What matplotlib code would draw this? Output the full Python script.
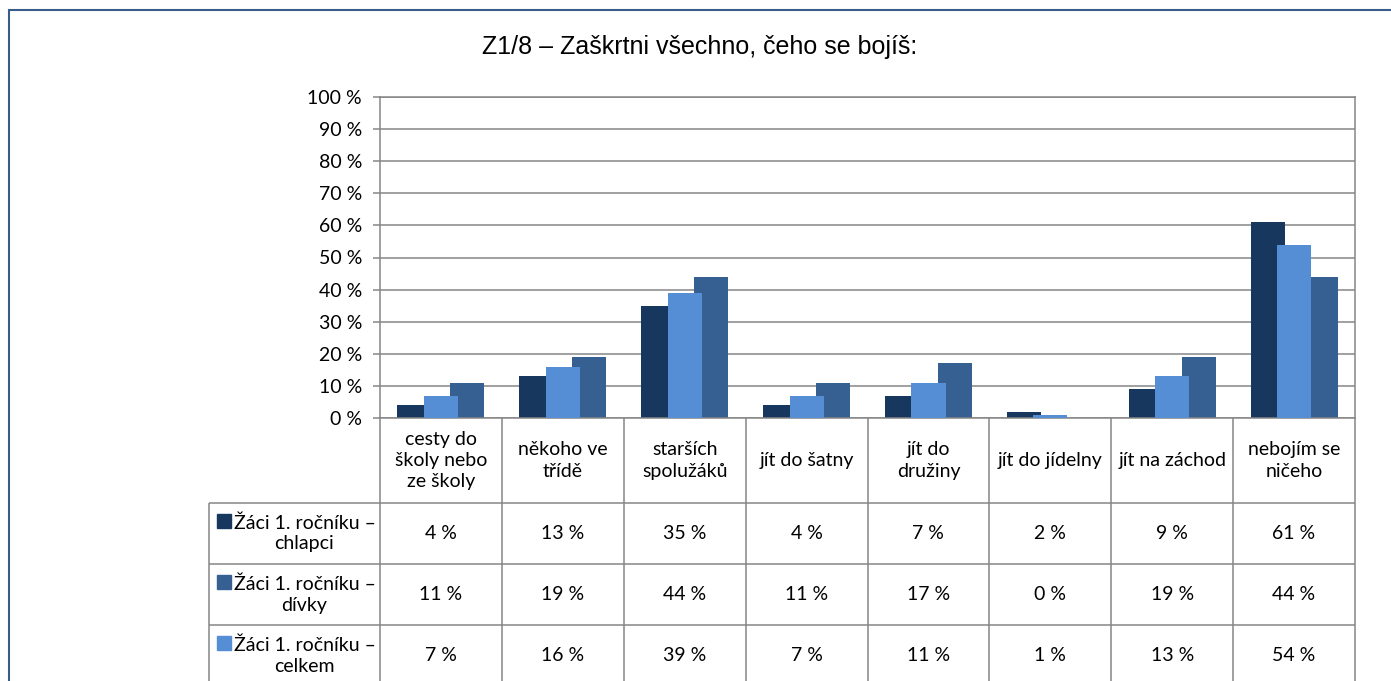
import numpy as np
import matplotlib.pyplot as plt
from matplotlib.patches import Rectangle

# data
categories = ['cesty do\nškoly nebo\nze školy', 'někoho ve\ntřídě', 'starších\nspolužáků',
              'jít do šatny', 'jít do\ndružiny', 'jít do jídelny', 'jít na záchod',
              'nebojím se\nničeho']
series_names = ['Žáci 1. ročníku –\nchlapci', 'Žáci 1. ročníku –\ndívky', 'Žáci 1. ročníku –\ncelkem']
chlapci = [4, 13, 35, 4, 7, 2, 9, 61]
divky = [11, 19, 44, 11, 17, 0, 19, 44]
celkem = [7, 16, 39, 7, 11, 1, 13, 54]
yticks = list(range(0, 101, 10))

colors = ['#17375e', '#376092', '#558ed5']
grey = '#868686'
W, H = 1391, 681
FS = 14

plt.rcParams['font.family'] = ['Lato', 'DejaVu Sans']

fig = plt.figure(figsize=(W / 100, H / 100), dpi=100)

# chart border
fig.patches.append(Rectangle((8.5 / W, -0.1), 2, 1 - 9.5 / H + 0.1, transform=fig.transFigure,
                             fill=False, ec='#385d8a', lw=1.5))

fig.text(699.5 / W, 1 - 47 / H, 'Z1/8 – Zaškrtni všechno, čeho se bojíš:',
         ha='center', va='center', fontsize=18, family='Liberation Sans')

# plot area
ax = fig.add_axes([380 / W, 1 - 418 / H, 975 / W, 321 / H])
x = np.arange(len(categories)) + 0.5
bw, off = 0.28, 0.217
ax.bar(x - off, chlapci, bw, color=colors[0], zorder=2)
ax.bar(x + off, divky, bw, color=colors[1], zorder=2)
ax.bar(x, celkem, bw, color=colors[2], zorder=3)
ax.set_xlim(0, len(categories))
ax.set_ylim(0, 100)
ax.set_xticks([])
ax.set_yticks(yticks)
ax.set_yticklabels([f'{v} %' for v in yticks], fontsize=FS)
ax.tick_params(axis='y', length=5, width=1.1, color=grey, pad=8)
ax.yaxis.grid(True, color=grey, lw=1.1)
ax.set_axisbelow(True)
for s in ax.spines.values():
    s.set_color(grey)
    s.set_linewidth(1.1)

# data table under the plot
lab_w = 171 / 121.875
head_h, row_h = 85, 61
tab = fig.add_axes([209 / W, 1 - 686 / H, 1146 / W, 268 / H])
tab.set_xlim(-lab_w, len(categories))
tab.set_ylim(head_h + 3 * row_h, 0)
tab.axis('off')
kw = dict(color=grey, lw=1.1, clip_on=False)
tab.vlines(np.arange(len(categories) + 1), 0, head_h + 3 * row_h, **kw)
tab.vlines(-lab_w, head_h, head_h + 3 * row_h, **kw)
tab.hlines([head_h + i * row_h for i in range(3)], -lab_w, len(categories), **kw)

for i, c in enumerate(categories):
    tab.text(i + 0.5, head_h / 2, c, ha='center', va='center', fontsize=FS,
             linespacing=1.3, multialignment='center')

for r, (name, vals) in enumerate(zip(series_names, [chlapci, divky, celkem])):
    yc = head_h + r * row_h + row_h / 2
    tab.text(-0.62, yc, name, ha='center', va='center', fontsize=FS,
             linespacing=1.25, multialignment='center')
    tab.add_patch(Rectangle((-lab_w + 8 / 121.875, yc - 19.5), 14 / 121.875, 14,
                            color=colors[r], clip_on=False))
    for i, v in enumerate(vals):
        tab.text(i + 0.5, yc, f'{v} %', ha='center', va='center', fontsize=FS)

fig.savefig('out.png', dpi=100)
